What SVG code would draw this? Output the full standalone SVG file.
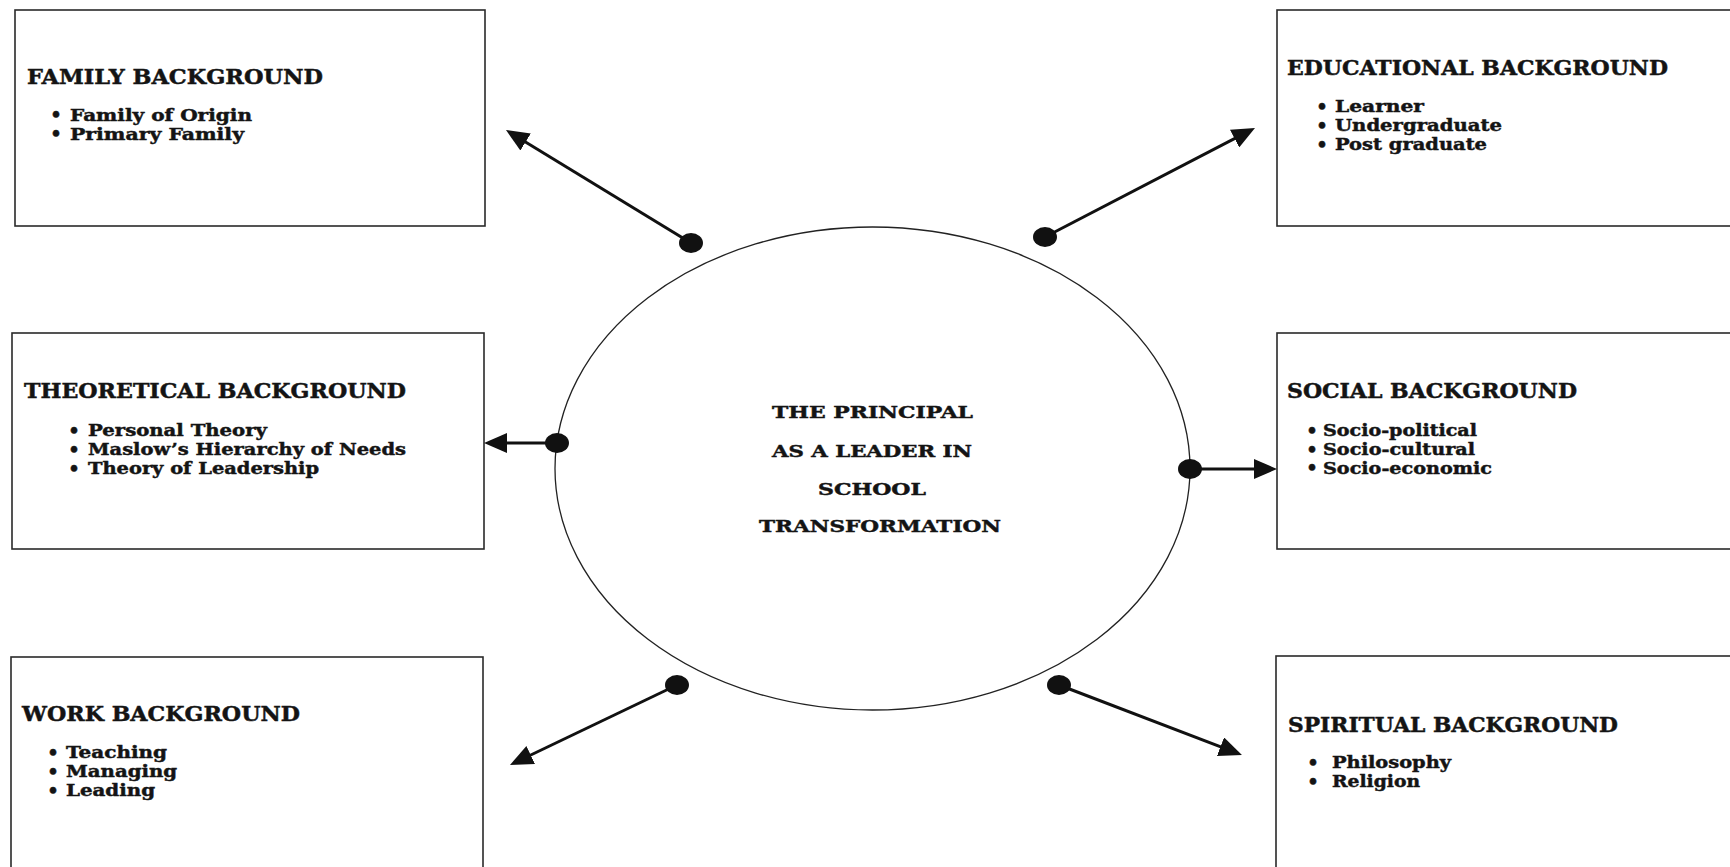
<svg xmlns="http://www.w3.org/2000/svg" width="1730" height="867" viewBox="0 0 1730 867">
<style>
.box{fill:#fff;stroke:#2a2a2a;stroke-width:1.6}
.t{font-family:"DejaVu Serif","Liberation Serif",serif;font-weight:bold;fill:#141414;stroke:#141414;stroke-width:0.45}
.h{font-size:20px}
.i{font-size:16px}
.c{font-size:16.5px}
.b{font-size:18px;text-anchor:middle}
.con{stroke:#111;stroke-width:3;fill:none;marker-end:url(#ah)}
.dot{fill:#111}
</style>
<defs>
<marker id="ah" markerUnits="userSpaceOnUse" viewBox="0 0 23 20" markerWidth="23" markerHeight="20" refX="15" refY="10" orient="auto">
<path d="M0,0 L23,10 L0,20 z" fill="#111"/>
</marker>
</defs>
<rect width="1730" height="867" fill="#fff"/>

<g id="center">
<ellipse cx="872.5" cy="468.5" rx="317.5" ry="241.5" fill="none" stroke="#222" stroke-width="1.3"/>
<text class="t c" x="772" y="418" textLength="201" lengthAdjust="spacingAndGlyphs">THE PRINCIPAL</text>
<text class="t c" x="772" y="457" textLength="200" lengthAdjust="spacingAndGlyphs">AS A LEADER IN</text>
<text class="t c" x="818" y="495" textLength="108" lengthAdjust="spacingAndGlyphs">SCHOOL</text>
<text class="t c" x="759" y="532" textLength="242" lengthAdjust="spacingAndGlyphs">TRANSFORMATION</text>
</g>

<g id="family">
<rect class="box" x="15" y="10" width="470" height="216"/>
<text class="t h" x="27" y="84" textLength="296" lengthAdjust="spacingAndGlyphs">FAMILY BACKGROUND</text>
<text class="t b" x="56" y="121">•</text>
<text class="t i" x="70" y="120.5" textLength="182" lengthAdjust="spacingAndGlyphs">Family of Origin</text>
<text class="t b" x="56" y="140">•</text>
<text class="t i" x="70" y="139.5" textLength="174" lengthAdjust="spacingAndGlyphs">Primary Family</text>
</g>

<g id="theoretical">
<rect class="box" x="12" y="333" width="472" height="216"/>
<text class="t h" x="24" y="398" textLength="382" lengthAdjust="spacingAndGlyphs">THEORETICAL BACKGROUND</text>
<text class="t b" x="74" y="436.5">•</text>
<text class="t i" x="88" y="436" textLength="179" lengthAdjust="spacingAndGlyphs">Personal Theory</text>
<text class="t b" x="74" y="455.5">•</text>
<text class="t i" x="88" y="455" textLength="318" lengthAdjust="spacingAndGlyphs">Maslow’s Hierarchy of Needs</text>
<text class="t b" x="74" y="474.5">•</text>
<text class="t i" x="88" y="474" textLength="231" lengthAdjust="spacingAndGlyphs">Theory of Leadership</text>
</g>

<g id="work">
<rect class="box" x="11" y="657" width="472" height="230"/>
<text class="t h" x="22" y="721" textLength="278" lengthAdjust="spacingAndGlyphs">WORK BACKGROUND</text>
<text class="t b" x="53" y="758.5">•</text>
<text class="t i" x="66" y="758" textLength="101" lengthAdjust="spacingAndGlyphs">Teaching</text>
<text class="t b" x="53" y="777.5">•</text>
<text class="t i" x="66" y="777" textLength="111" lengthAdjust="spacingAndGlyphs">Managing</text>
<text class="t b" x="53" y="796.5">•</text>
<text class="t i" x="66" y="796" textLength="89" lengthAdjust="spacingAndGlyphs">Leading</text>
</g>

<g id="educational">
<rect class="box" x="1277" y="10" width="470" height="216"/>
<text class="t h" x="1287" y="75" textLength="381" lengthAdjust="spacingAndGlyphs">EDUCATIONAL BACKGROUND</text>
<text class="t b" x="1322" y="112.5">•</text>
<text class="t i" x="1335" y="112" textLength="89" lengthAdjust="spacingAndGlyphs">Learner</text>
<text class="t b" x="1322" y="131.5">•</text>
<text class="t i" x="1335" y="131" textLength="167" lengthAdjust="spacingAndGlyphs">Undergraduate</text>
<text class="t b" x="1322" y="150.5">•</text>
<text class="t i" x="1335" y="150" textLength="152" lengthAdjust="spacingAndGlyphs">Post graduate</text>
</g>

<g id="social">
<rect class="box" x="1277" y="333" width="470" height="216"/>
<text class="t h" x="1287" y="398" textLength="290" lengthAdjust="spacingAndGlyphs">SOCIAL BACKGROUND</text>
<text class="t b" x="1312" y="436.8">•</text>
<text class="t i" x="1323" y="436.3" textLength="154" lengthAdjust="spacingAndGlyphs">Socio-political</text>
<text class="t b" x="1312" y="455.5">•</text>
<text class="t i" x="1323" y="455" textLength="152" lengthAdjust="spacingAndGlyphs">Socio-cultural</text>
<text class="t b" x="1312" y="474.2">•</text>
<text class="t i" x="1323" y="473.7" textLength="169" lengthAdjust="spacingAndGlyphs">Socio-economic</text>
</g>

<g id="spiritual">
<rect class="box" x="1276" y="656" width="470" height="230"/>
<text class="t h" x="1288" y="732" textLength="330" lengthAdjust="spacingAndGlyphs">SPIRITUAL BACKGROUND</text>
<text class="t b" x="1313" y="768.5">•</text>
<text class="t i" x="1332" y="768" textLength="119" lengthAdjust="spacingAndGlyphs">Philosophy</text>
<text class="t b" x="1313" y="787.5">•</text>
<text class="t i" x="1332" y="787" textLength="88" lengthAdjust="spacingAndGlyphs">Religion</text>
</g>

<g id="connectors">
<line class="con" x1="691" y1="243" x2="512.8" y2="134.2"/>
<line class="con" x1="1045" y1="237" x2="1247.9" y2="131.7"/>
<line class="con" x1="557" y1="443" x2="492" y2="443"/>
<line class="con" x1="1190" y1="469" x2="1269" y2="469"/>
<line class="con" x1="677" y1="685" x2="517.2" y2="761.5"/>
<line class="con" x1="1059" y1="685" x2="1234.5" y2="752.1"/>
<ellipse class="dot" cx="691" cy="243" rx="12" ry="10"/>
<ellipse class="dot" cx="1045" cy="237" rx="12" ry="10"/>
<ellipse class="dot" cx="557" cy="443" rx="12" ry="10"/>
<ellipse class="dot" cx="1190" cy="469" rx="12" ry="10"/>
<ellipse class="dot" cx="677" cy="685" rx="12" ry="10"/>
<ellipse class="dot" cx="1059" cy="685" rx="12" ry="10"/>
</g>
</svg>
